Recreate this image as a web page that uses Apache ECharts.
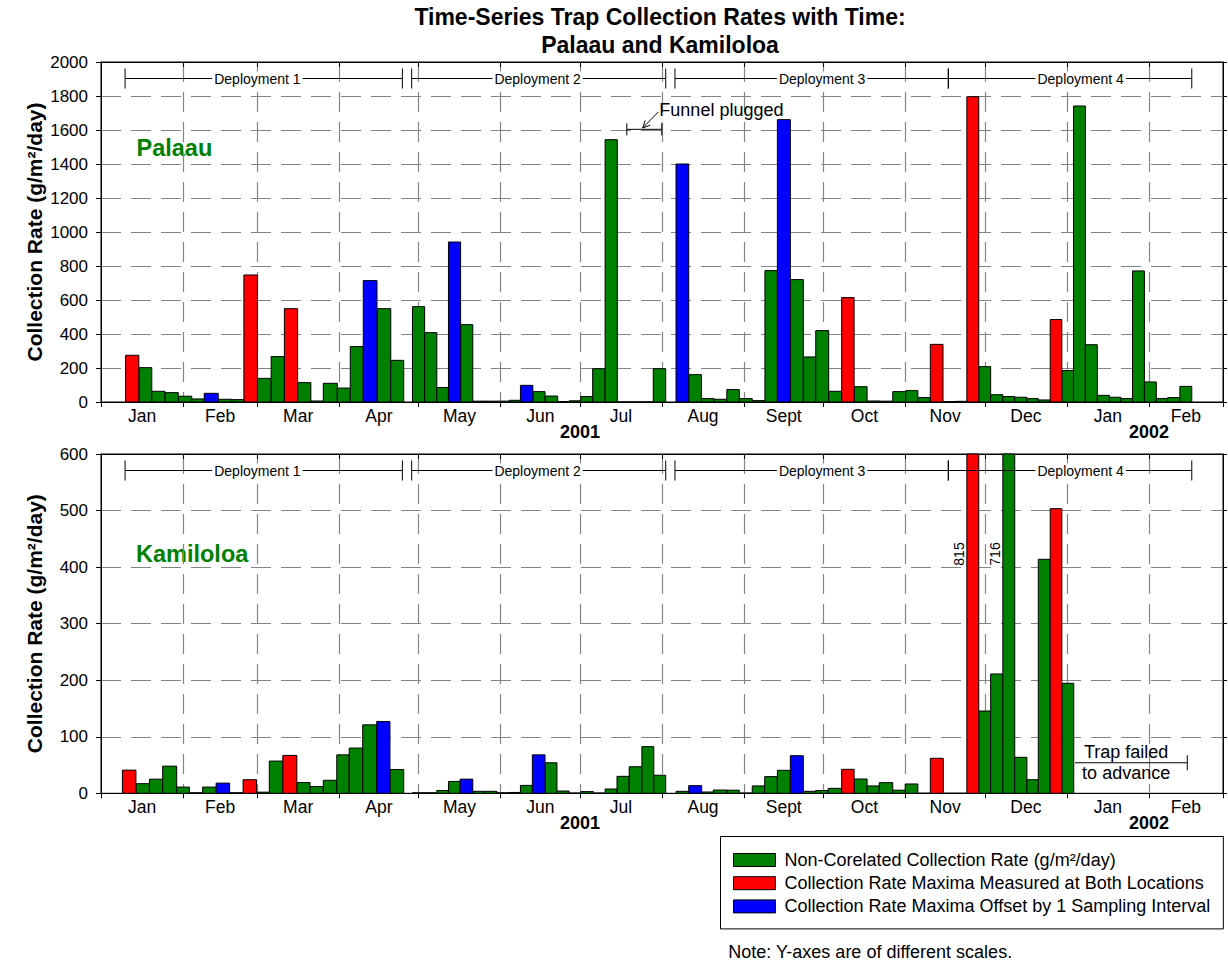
<!DOCTYPE html>
<html>
<head>
<meta charset="utf-8">
<script src="https://cdn.jsdelivr.net/npm/echarts@6/dist/echarts.min.js"></script>
<style>
html,body{margin:0;padding:0;background:#fff;}
#chart{width:1228px;height:964px;}
</style>
</head>
<body>
<div id="chart"></div>
<script>
// ================= DATA =================
// x values are days since 1 Jan 2001
const monthNames = ['Jan','Feb','Mar','Apr','May','Jun','Jul','Aug','Sept','Oct','Nov','Dec','Jan','Feb'];
const monthStartDays = [0,31,59,90,120,151,181,212,243,273,304,334,365,396,424];
const yearLabels = ['2001','2002'];
const yearLabelDays = [181,396];

const palaauTicks = [0,200,400,600,800,1000,1200,1400,1600,1800,2000];
const kamiloloaTicks = [0,100,200,300,400,500,600];

const legendNames = [
  'Non-Corelated Collection Rate (g/m\u00B2/day)',
  'Collection Rate Maxima Measured at Both Locations',
  'Collection Rate Maxima Offset by 1 Sampling Interval'
];
const typeCodes = ['G','R','B'];

// Palaau: sampling interval boundaries (days), values (g/m2/day), types
const palaauEdges = [
  9.3, 14.3, 19.2, 24.2, 29.2, 34.3, 39.0, 44.3, 49.4, 54.0, 59.1, 64.3, 69.3, 74.3, 79.3, 84.0, 89.3, 94.2, 99.1, 104.3, 109.5, 114.4,
  117.7, 122.3, 126.9, 131.3, 135.9, 140.5, 145.1, 149.8, 154.2, 158.5, 163.2, 167.8, 172.6, 176.9, 181.3, 185.8, 190.5, 195.1, 199.7, 204.2, 208.7, 213.4,
  217.3, 222.1, 226.9, 231.7, 236.5, 241.2, 246.1, 250.9, 255.6, 260.5, 265.4, 270.1, 275.0, 279.9, 284.6, 289.5, 294.4, 299.2, 304.1, 308.7,
  313.4, 318.2, 322.8, 327.2, 331.7, 336.2, 340.8, 345.3, 349.9, 354.2, 358.7, 363.1, 367.5, 372.0, 376.5, 381.1, 385.4, 389.8, 394.3, 398.8,
  403.1, 407.7, 412.2
];
const palaauValues = [
  275, 202, 63, 55, 34, 18, 51, 16, 14, 747, 139, 267, 549, 114, 6, 110, 82, 326, 714, 549, 245,
  null,
  561, 408, 85, 941, 455, 5, 5, 5, 10, 98, 61, 35, 3, 7, 32, 196, 1543, 0, 0, 0, 196,
  null,
  1400, 161, 20, 16, 73, 20, 8, 773, 1661, 720, 265, 420, 63, 614, 90, 6, 5, 61, 67, 26,
  339, 2, 4, 1796, 208, 43, 32, 28, 20, 12, 485, 185, 1741, 337, 39, 28, 20, 771, 118, 20,
  26, 92
];
const palaauTypes = ('RGGGGGBGGRGGRGGGGGBGG' + '-' + 'GGGBGGGGGBGGGGGGGGGGG' + '-' +
  'BGGGGGGGBGGGGRGGGGGGRGGRGGGGGGRGGGGGGGGGGG').split('');

// Kamiloloa
const kamiloloaEdges = [
  8.1, 13.2, 18.3, 23.3, 28.6, 33.4, 38.4, 43.5, 48.6, 53.7, 58.8, 63.6, 68.7, 74.0, 79.0, 84.0, 89.1, 93.8, 98.9, 104.2, 109.2, 114.4,
  117.7, 121.8, 126.9, 131.3, 135.7, 140.5, 145.1, 149.6, 154.2, 158.5, 163.0, 167.8, 172.3, 176.9, 181.3, 186.1, 190.5, 195.0, 199.6, 204.4, 208.9, 213.4,
  217.3, 222.1, 227.0, 231.4, 236.5, 241.2, 246.1, 250.8, 255.6, 260.5, 265.4, 270.1, 274.8, 279.9, 284.6, 289.5, 294.1, 299.2, 303.9, 308.7,
  313.4, 318.3, 322.8, 327.2, 331.7, 336.2, 340.8, 345.3, 349.9, 354.2, 358.7, 363.1, 367.6
];
const kamiloloaValues = [
  41, 17, 25, 48, 11, 1, 11, 18, 1, 24, 2, 57, 67, 19, 12, 23, 68, 80, 121, 127, 42,
  null,
  1, 1, 5, 21, 25, 3.5, 3.5, 1, 1.5, 14, 68, 54, 4, 0.5, 3, 0.5, 7.6, 30, 47, 82.5, 32,
  null,
  3.5, 13.5, 2.3, 5.8, 5.5, 0.5, 13, 29.5, 40.6, 66.5, 3.5, 5, 8.8, 42.4, 25.3, 13, 18.8, 5.5, 16.5, 0,
  61.9, 0, 0, 815, 145.5, 211, 716, 63.6, 24, 413.8, 503.3, 194.5
];
const kamiloloaTypes = ('RGGGGGGBGRGGRGGGGGGBG' + '-' + 'GGGGBGGGGGBGGGGGGGGGG' + '-' +
  'GBGGGGGGGBGGGRGGGGGGRGGRGGGGGGRG').split('');

// Deployments
const deployNames = ['Deployment 1','Deployment 2','Deployment 3','Deployment 4'];
const deployStart = [9.1, 117.4, 216.9, 320.2];
const deployEnd = [113.9, 213.4, 320.2, 412.2];
const deployLabelDay = [59.1, 165.0, 272.5, 370.2];

// Annotations
const funnelText = 'Funnel plugged';
const funnelSpan = [198.7, 211.9];
const funnelLevel = 1604;
const funnelArrowFrom = [210.6, 1706];
const funnelArrowTo = [204.7, 1612];
const funnelTextAt = [211.0, 1716];

const trapText = 'Trap failed\nto advance';
const trapSpan = [368.1, 410.5];
const trapLevel = 54;
const trapTextAt = [387.4, 55];

const siteNames = ['Palaau','Kamiloloa'];
const noteText = 'Note: Y-axes are of different scales.';
const titleText = 'Time-Series Trap Collection Rates with Time:\nPalaau and Kamiloloa';
const yAxisTitle = 'Collection Rate (g/m\u00B2/day)';

// ================= STYLE =================
const FONT = '"Liberation Sans", Arial, Helvetica, sans-serif';
const COLORS = {G:'#008000', R:'#ff0000', B:'#0000ff'};
const GRID_COLOR = '#858585';

const monthLabelDays = monthNames.map((m,i) => (monthStartDays[i] + monthStartDays[i+1]) / 2);

function monthFormatter(v){
  for (let i=0;i<monthLabelDays.length;i++) if (Math.abs(monthLabelDays[i]-v) < 0.01) return monthNames[i];
  return '';
}
function yearFormatter(v){
  for (let i=0;i<yearLabelDays.length;i++) if (Math.abs(yearLabelDays[i]-v) < 0.01) return yearLabels[i];
  return '';
}

function monthAxis(g){
  return {
    gridIndex:g, type:'value', min:0, max:424, position:'bottom',
    axisLine:{show:true, onZero:false, lineStyle:{color:'#000', width:1}},
    axisTick:{show:true, customValues:monthStartDays, length:5, inside:false, lineStyle:{color:'#000', width:1}},
    axisLabel:{show:true, customValues:monthLabelDays, formatter:monthFormatter, margin:5,
      fontSize:17.5, color:'#000', fontFamily:FONT, hideOverlap:false},
    splitLine:{show:true, showMinLine:false, showMaxLine:false,
      lineStyle:{color:GRID_COLOR, width:1.2, type:[20,10]}}
  };
}
function yearAxis(g){
  return {
    gridIndex:g, type:'value', min:0, max:424, position:'bottom',
    axisLine:{show:false}, axisTick:{show:false}, splitLine:{show:false},
    axisLabel:{show:true, customValues:yearLabelDays, formatter:yearFormatter, margin:21,
      fontSize:18, fontWeight:'bold', color:'#000', fontFamily:FONT, hideOverlap:false}
  };
}
function topAxis(g){
  return {
    gridIndex:g, type:'value', min:0, max:424, position:'top',
    axisLine:{show:true, onZero:false, lineStyle:{color:'#000', width:1}},
    axisTick:{show:true, customValues:monthStartDays, length:5, inside:true, lineStyle:{color:'#000'}},
    axisLabel:{show:false}, splitLine:{show:false}
  };
}
function leftAxis(g, ticks){
  return {
    gridIndex:g, type:'value', position:'left', min:ticks[0], max:ticks[ticks.length-1],
    interval:ticks[1]-ticks[0],
    axisLine:{show:true, onZero:false, lineStyle:{color:'#000', width:1}},
    axisTick:{show:true, length:5, inside:false, lineStyle:{color:'#000'}},
    axisLabel:{show:true, margin:13, fontSize:17, color:'#000', fontFamily:FONT,
      formatter:function(v){ return String(v); }},
    splitLine:{show:true, showMinLine:false, showMaxLine:false,
      lineStyle:{color:GRID_COLOR, width:1.2, type:[20,10]}},
    name:yAxisTitle, nameLocation:'middle', nameRotate:90, nameGap:56,
    nameMoveOverlap:false,
    nameTextStyle:{fontSize:21, fontWeight:'bold', color:'#000', fontFamily:FONT}
  };
}
function rightAxis(g, ticks){
  return {
    gridIndex:g, type:'value', position:'right', min:ticks[0], max:ticks[ticks.length-1],
    interval:ticks[1]-ticks[0],
    axisLine:{show:true, onZero:false, lineStyle:{color:'#000', width:1}},
    axisTick:{show:true, length:4, inside:false, lineStyle:{color:'#000'}},
    axisLabel:{show:false}, splitLine:{show:false}
  };
}

function barSeries(g, edges, values, types, k){
  const code = typeCodes[k];
  const data = [];
  for (let i=0;i<values.length;i++){
    if (values[i] == null || types[i] !== code) continue;
    data.push([edges[i], edges[i+1], values[i]]);
  }
  return {
    type:'custom', name:legendNames[k], xAxisIndex:g, yAxisIndex:g,
    itemStyle:{color:COLORS[code], borderColor:'#000', borderWidth:1},
    encode:{x:[0,1], y:2}, data:data, silent:true, z:3,
    renderItem:function(params, api){
      const p0 = api.coord([api.value(0), api.value(2)]);
      const p1 = api.coord([api.value(1), 0]);
      const cs = params.coordSys;
      const top = Math.max(p0[1], cs.y);
      const kids = [{
        type:'rect',
        shape:{x:p0[0], y:top, width:p1[0]-p0[0], height:p1[1]-top},
        style:{fill:api.visual('color'), stroke:'#000', lineWidth:1}
      }];
      if (p0[1] < cs.y){
        kids.push({
          type:'text', x:p0[0]-8, y:cs.y+100, rotation:Math.PI/2,
          style:{text:String(api.value(2)), align:'center', verticalAlign:'middle',
            fontSize:14, fill:'#000', fontFamily:FONT}
        });
      }
      return {type:'group', children:kids};
    }
  };
}

function capLine(x, y, h){
  return {type:'line', shape:{x1:x, y1:y-h, x2:x, y2:y+h}, style:{stroke:'#000', lineWidth:1}};
}
function hLine(x1, x2, y){
  return {type:'line', shape:{x1:x1, y1:y, x2:x2, y2:y}, style:{stroke:'#000', lineWidth:1}};
}

function annotSeries(g){
  return {
    type:'custom', xAxisIndex:g, yAxisIndex:g, silent:true, z:5,
    data:[[0,0]], encode:{x:0, y:1},
    renderItem:function(params, api){
      const cs = params.coordSys;
      const yLine = cs.y + 16.5;
      const kids = [];
      for (let i=0;i<deployNames.length;i++){
        const xa = api.coord([deployStart[i],0])[0];
        const xb = api.coord([deployEnd[i],0])[0];
        const xl = api.coord([deployLabelDay[i],0])[0];
        kids.push(hLine(xa, xb, yLine));
        kids.push(capLine(xa, yLine, 10));
        kids.push(capLine(xb, yLine, 10));
        kids.push({type:'text', x:xl, y:yLine,
          style:{text:deployNames[i], align:'center', verticalAlign:'middle', fontSize:14,
            fill:'#000', fontFamily:FONT, backgroundColor:'#fff', padding:[0,2]}});
      }
      if (g === 0){
        const a = api.coord([funnelSpan[0], funnelLevel]);
        const b = api.coord([funnelSpan[1], funnelLevel]);
        kids.push(hLine(a[0], b[0], a[1]));
        kids.push(capLine(a[0], a[1], 6));
        kids.push(capLine(b[0], b[1], 6));
        const f = api.coord(funnelArrowFrom);
        const t = api.coord(funnelArrowTo);
        kids.push({type:'line', shape:{x1:f[0], y1:f[1], x2:t[0], y2:t[1]}, style:{stroke:'#000', lineWidth:1}});
        const ang = Math.atan2(f[1]-t[1], f[0]-t[0]);
        const L = 8, sp = 0.45;
        kids.push({type:'polyline', shape:{points:[
          [t[0]+L*Math.cos(ang+sp), t[1]+L*Math.sin(ang+sp)], [t[0], t[1]],
          [t[0]+L*Math.cos(ang-sp), t[1]+L*Math.sin(ang-sp)]]},
          style:{stroke:'#000', lineWidth:1, fill:null}});
        const p = api.coord(funnelTextAt);
        kids.push({type:'text', x:p[0], y:p[1],
          style:{text:funnelText, align:'left', verticalAlign:'middle', fontSize:18, fill:'#000', fontFamily:FONT}});
      } else {
        const a = api.coord([trapSpan[0], trapLevel]);
        const b = api.coord([trapSpan[1], trapLevel]);
        kids.push(hLine(a[0], b[0], a[1]));
        kids.push(capLine(b[0], b[1], 7.5));
        const p = api.coord(trapTextAt);
        kids.push({type:'text', x:p[0], y:p[1],
          style:{text:trapText, align:'center', verticalAlign:'middle', fontSize:18, lineHeight:21,
            fill:'#000', fontFamily:FONT}});
      }
      return {type:'group', children:kids};
    }
  };
}

const series = [];
for (let k=0;k<3;k++) series.push(barSeries(0, palaauEdges, palaauValues, palaauTypes, k));
for (let k=0;k<3;k++) series.push(barSeries(1, kamiloloaEdges, kamiloloaValues, kamiloloaTypes, k));
series.push(annotSeries(0));
series.push(annotSeries(1));

const option = {
  animation:false,
  backgroundColor:'#fff',
  textStyle:{fontFamily:FONT},
  title:{
    text:titleText, left:660, top:2.5, textAlign:'center', padding:0,
    textStyle:{fontSize:23, fontWeight:'bold', color:'#000', lineHeight:28, fontFamily:FONT}
  },
  grid:[
    {left:101, top:62, width:1122, height:340, show:true, borderColor:'#000', borderWidth:1,
      backgroundColor:'transparent', containLabel:false, outerBoundsMode:'none'},
    {left:101, top:454, width:1122, height:339.3, show:true, borderColor:'#000', borderWidth:1,
      backgroundColor:'transparent', containLabel:false, outerBoundsMode:'none'}
  ],
  xAxis:[monthAxis(0), monthAxis(1), yearAxis(0), yearAxis(1), topAxis(0), topAxis(1)],
  yAxis:[leftAxis(0, palaauTicks), leftAxis(1, kamiloloaTicks), rightAxis(0, palaauTicks), rightAxis(1, kamiloloaTicks)],
  legend:{
    data:legendNames, orient:'vertical', left:720.5, top:836.5,
    padding:[13,13,12,12.5], itemGap:2.2, itemWidth:42, itemHeight:13, icon:'rect',
    itemStyle:{borderColor:'#000', borderWidth:1},
    textStyle:{fontSize:18, color:'#000', lineHeight:21, padding:[0,0,0,4], fontFamily:FONT},
    borderColor:'#000', borderWidth:1, backgroundColor:'#fff', selectedMode:false, borderRadius:0
  },
  graphic:[
    {type:'text', x:136.5, y:148.3, silent:true,
      style:{text:siteNames[0], fontSize:23.5, fontWeight:'bold', fill:'#008000', align:'left', verticalAlign:'middle', fontFamily:FONT}},
    {type:'text', x:136, y:553.8, silent:true,
      style:{text:siteNames[1], fontSize:23.5, fontWeight:'bold', fill:'#008000', align:'left', verticalAlign:'middle', fontFamily:FONT}},
    {type:'text', x:728.3, y:951.7, silent:true,
      style:{text:noteText, fontSize:18, fill:'#000', align:'left', verticalAlign:'middle', fontFamily:FONT}}
  ],
  series:series
};

const chart = echarts.init(document.getElementById('chart'), null, {renderer:'svg'});
chart.setOption(option);
</script>
</body>
</html>
